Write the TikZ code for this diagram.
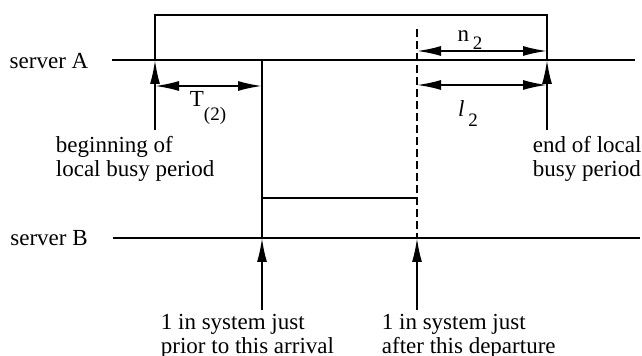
\documentclass[tikz,border=0pt]{standalone}
\usepackage{fontspec}
\setmainfont{Liberation Serif}
\usetikzlibrary{arrows.meta}

\newcommand{\lowidx}[2]{\raisebox{-#1}{\fontsize{9.5}{9.5}\selectfont #2}}

\begin{document}
\begin{tikzpicture}[x=0.5pt, y=-0.5pt, line width=0.9pt,
    tip/.style={-{Latex[length=12pt,width=5pt]}},
    span/.style={{Latex[length=12pt,width=5pt]}-{Latex[length=12pt,width=5pt]}},
    lbl/.style={inner sep=0pt, font=\fontsize{11.5}{12}\selectfont, align=left}]
    \useasboundingbox (0,0) rectangle (642,356);

    % the two servers
    \node[lbl] (srvA) at (49,61) {server A};
    \node[lbl] (srvB) at (49,238) {server B};
    \coordinate (a0) at (112,60);  \coordinate (a1) at (635,60);
    \coordinate (b0) at (113,238); \coordinate (b1) at (640,238);
    \draw (a0) -- (a1);
    \draw (b0) -- (b1);

    % local busy period of server A (open bracket on top)
    \coordinate (bgA) at (155,60);  \coordinate (bgT) at (155,15);
    \coordinate (enA) at (547,60);  \coordinate (enT) at (547,15);
    \draw (bgA) -- (bgT) -- (enT) -- (enA);

    % arrival and departure instants, carried down to server B
    \coordinate (arA) at (262,60);  \coordinate (arB) at (262,238);
    \coordinate (dpT) at (417,29);  \coordinate (dpB) at (417,238);
    \coordinate (boxL) at (262,198); \coordinate (boxR) at (417,198);
    \draw (arA) -- (arB);
    \draw[dash pattern=on 4pt off 2pt] (dpT) -- (dpB);
    \draw (boxL) -- (boxR);

    % interval arrows
    \coordinate (t0) at (155,86);  \coordinate (t1) at (262,86);
    \coordinate (n0) at (417,51);  \coordinate (n1) at (547,51);
    \coordinate (l0) at (417,85);  \coordinate (l1) at (547,85);
    \draw[span] (t0) -- (t1);
    \draw[span] (n0) -- (n1);
    \draw[span] (l0) -- (l1);
    \node[lbl] (tlab) at (208,108) {T\lowidx{7pt}{(2)}};
    \node[lbl] (nlab) at (470,40) {n\,\lowidx{4pt}{2}};
    \node[lbl] (llab) at (468,114) {\textit{l}\,\lowidx{5pt}{2}};

    % begin / end of the local busy period
    \coordinate (bgF) at (155,130);
    \coordinate (enF) at (547,130);
    \draw[tip] (bgF) -- (bgA);
    \draw[tip] (enF) -- (enA);
    \node[lbl, anchor=north west] (beg) at (55,135) {beginning of\\local busy period};
    \node[lbl, anchor=north west] (end) at (532,135) {end of local\\busy period};

    % the two instants at server B
    \coordinate (arF) at (262,310);
    \coordinate (dpF) at (417,310);
    \draw[tip] (arF) -- (arB);
    \draw[tip] (dpF) -- (dpB);
    \node[lbl, anchor=north west] (arr) at (160,313) {1 in system just\\prior to this arrival};
    \node[lbl, anchor=north west] (dep) at (381,313) {1 in system just\\after this departure};
\end{tikzpicture}
\end{document}
